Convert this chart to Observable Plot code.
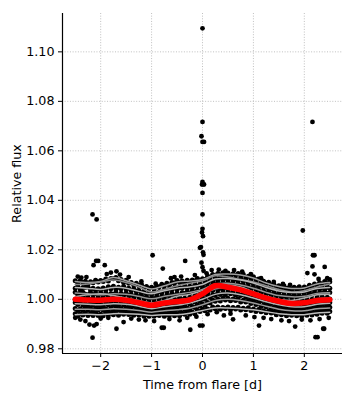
<!DOCTYPE html>
<html><head><meta charset="utf-8">
<script src="https://cdn.jsdelivr.net/npm/d3@7"></script>
<script src="https://cdn.jsdelivr.net/npm/@observablehq/plot@0.6"></script>
<style>body{margin:0;background:#fff} svg{font-family:"DejaVu Sans",sans-serif}</style>
</head><body><div id="chart"></div>
<script>
// time grid of the stacked light curves [d]
const times = [-2.5,-2.45,-2.4,-2.35,-2.3,-2.25,-2.2,-2.15,-2.1,-2.05,-2,-1.95,-1.9,-1.85,-1.8,-1.75,-1.7,-1.65,-1.6,-1.55,-1.5,-1.45,-1.4,-1.35,-1.3,-1.25,-1.2,-1.15,-1.1,-1.05,-1,-0.95,-0.9,-0.85,-0.8,-0.75,-0.7,-0.65,-0.6,-0.55,-0.5,-0.45,-0.4,-0.35,-0.3,-0.25,-0.2,-0.15,-0.1,-0.05,0,0.05,0.1,0.15,0.2,0.25,0.3,0.35,0.4,0.45,0.5,0.55,0.6,0.65,0.7,0.75,0.8,0.85,0.9,0.95,1,1.05,1.1,1.15,1.2,1.25,1.3,1.35,1.4,1.45,1.5,1.55,1.6,1.65,1.7,1.75,1.8,1.85,1.9,1.95,2,2.05,2.1,2.15,2.2,2.25,2.3,2.35,2.4,2.45,2.5];
// flux deviations in units of 1e-4 (relative flux = 1 + v/1e4)
const bandA = [75,66,76,68,73, 62,71,67,77,70, 76,72,82,74,84, 83,88,75,80,68, 77,65,68,58,65, 55,61,48,52,44, 49,43,53,51,61, 54,65,57,68,66, 76,68,74,65,77, 69,78,74,84,75, 83,80,93,90,100, 95,104,98,107,96, 106,95,103,97,104, 95,101,87,93,84, 91,79,82,68,73, 62,69,58,61,50, 55,45,55,44,48, 40,49,43,51,41, 50,46,57,50,62, 57,67,61,72,63, 71];
const bandB = [45,52,40,48,49, 50,39,45,37,43, 38,46,38,51,43, 53,41,49,43,52, 41,45,35,43,33, 37,27,32,20,26, 19,31,23,32,27, 39,32,42,39,49, 39,49,45,53,45, 53,48,60,53,60, 55,68,67,78,72, 86,79,89,78,86, 80,88,79,82,73, 84,74,77,66,71, 63,67,53,58,50, 52,40,44,37,43, 29,36,30,36,25, 31,22,34,27,34, 26,35,31,44,38, 49,41,49,40,49, 45];
const bandC = [29,19,26,29,20, 18,26,18,23,13, 24,16,24,15,23, 20,27,15,24,16, 25,15,19,9,18, 9,16,4,8,-1, 6,2,11,2,13, 7,17,13,23,14, 23,16,27,23,31, 24,35,30,37,32, 45,42,53,48,61, 59,69,58,66,60, 69,61,67,55,61, 56,60,49,53,43, 51,39,40,30,35, 24,28,17,25,16, 20,10,15,9,17, 7,16,6,13,8, 16,9,20,17,27, 18,27,23,30,23, 28];
const bandD = [-1,7,1,9,-2, 7,-2,4,-5,2, -3,6,-4,3,-2, 6,0,6,-5,3, -6,1,-5,0,-10, -5,-14,-6,-17,-14, -22,-11,-16,-9,-16, -3,-10,-2,-9,-1, -6,5,-2,4,-1, 8,3,15,12,23, 16,27,23,38,36, 47,39,46,38,48, 43,50,38,43,36, 42,33,38,24,31, 20,25,16,21,7, 11,-1,7,-2,3, -9,-1,-11,-3,-16, -6,-15,-9,-16,-6, -12,-3,-9,0,-6, 6,-2,9,1,6, 1];
const bandE = [-13,-21,-13,-23,-18, -25,-16,-23,-15,-25, -19,-27,-15,-22,-15, -22,-16,-24,-13,-23, -14,-26,-20,-27,-21, -31,-25,-38,-30,-38, -34,-41,-33,-36,-26, -36,-26,-30,-21,-29, -22,-27,-16,-22,-11, -19,-7,-11,-3,-8, 3,0,14,7,18, 15,25,19,25,18, 31,22,25,16,23, 15,20,9,12,2, 9,-1,4,-6,-4, -15,-9,-17,-11,-24, -18,-30,-22,-29,-23, -33,-25,-34,-28,-36, -25,-30,-22,-29,-19, -24,-13,-21,-16,-22, -13];
const bandF = [-37,-45,-38,-44,-34, -43,-36,-47,-36,-44, -37,-44,-38,-46,-35, -43,-32,-42,-37,-44, -36,-43,-37,-49,-41, -48,-41,-52,-47,-56, -46,-54,-46,-53,-45, -50,-40,-46,-41,-49, -39,-46,-34,-41,-35, -41,-29,-33,-23,-27, -18,-25,-13,-15,-3, -8,1,-7,4,-3, 4,-6,1,-5,2, -11,-4,-11,-6,-17, -10,-21,-16,-29,-23, -30,-24,-38,-32,-42, -36,-44,-37,-46,-42, -51,-44,-49,-40,-50, -43,-50,-39,-43,-35, -42,-32,-40,-34,-42, -32];
const bandG = [-58,-68,-58,-63,-55, -65,-57,-65,-55,-65, -60,-66,-54,-63,-55, -62,-53,-64,-55,-60, -52,-61,-57,-64,-56, -63,-56,-68,-61,-68, -60,-68,-61,-65,-57, -68,-60,-65,-57,-66, -59,-66,-56,-60,-51, -60,-51,-58,-44,-49, -40,-46,-39,-43,-31, -38,-31,-40,-33,-37, -31,-42,-33,-39,-32, -43,-36,-42,-34,-45, -39,-49,-41,-50,-46, -54,-46,-55,-52,-62, -53,-62,-56,-66,-59, -64,-57,-66,-59,-67, -58,-64,-53,-63,-54, -60,-50,-56,-47,-56, -49];

// scattered points (flare spikes and outliers)
const outTimes = [0,0,-0.02,0,0.03,0,-0.01,0.03,0,0,0,-0.01,0.01,-0.03,0.01,0.02,-0.02,0,0.02,-0.05,
  2.16,1.97,-2.16,-2.08,-0.98,-0.78,-2.09,-2.05,-2.14,-1.92,-1.69,-0.34,2.17,2.20,2.16,2.40,2.06,2.20,
  -2.16,-1.69,-1.55,-2.30,-2.22,-2.13,-2.08,-0.80,-0.76,-0.24,-0.05,0.0,0.60,1.11,1.02,1.82,2.37,2.39,2.22,2.26,1.25,1.88];
const outFlux = [1.1095,1.0717,1.0659,1.0636,1.0636,1.0474,1.0464,1.0464,1.0430,1.0343,1.0285,1.0270,1.0255,1.0211,1.0190,1.0180,1.0148,1.0130,1.0115,1.0208,
  1.0717,1.0278,1.0343,1.0323,1.0178,1.0124,1.0155,1.0155,1.0138,1.0138,1.0113,1.0155,1.0178,1.0178,1.0133,1.0131,1.0106,1.0101,
  0.9845,0.9881,0.9908,0.9912,0.9898,0.9894,0.9900,0.9885,0.9885,0.9877,0.9894,0.9894,0.9919,0.9894,0.9928,0.9890,0.9881,0.9881,0.9847,0.9847,1.0063,1.0039];
// scattered points along the upper and lower edges of the band
const edgeTimes = [-2.45,-2.38,-2.28,-1.88,-1.80,-1.62,-1.45,-1.20,-0.92,-0.62,-0.55,-0.42,-0.15,0.08,0.18,0.32,0.45,0.62,0.78,0.95,1.15,1.40,1.58,1.72,2.28,2.45,2.50,
  -2.50,-2.40,-2.00,-1.85,-1.40,-1.25,-1.12,-0.95,-0.65,-0.45,-0.30,-0.12,0.10,0.28,0.42,0.55,0.85,1.20,1.35,1.55,1.70,1.95,2.12,2.30,2.48];
const edgeFlux = [1.0092,1.0088,1.0090,1.0102,1.0108,1.0100,1.0090,1.0072,1.0063,1.0085,1.0090,1.0092,1.0098,1.0105,1.0118,1.0120,1.0115,1.0118,1.0112,1.0102,1.0085,1.0070,1.0062,1.0058,1.0082,1.0085,1.0080,
  0.9925,0.9918,0.9922,0.9925,0.9922,0.9918,0.9915,0.9912,0.9920,0.9915,0.9925,0.9930,0.9940,0.9948,0.9935,0.9942,0.9935,0.9925,0.9920,0.9915,0.9912,0.9918,0.9915,0.9920,0.9925];

// model curves (gray samples) at knot times, units of 1e-4
const knotTimes = [-2.5,-2.25,-2,-1.75,-1.5,-1.25,-1,-0.75,-0.5,-0.25,0,0.25,0.5,0.75,1,1.25,1.5,1.75,2,2.25,2.5];
const modelA = [72,68,72,88,75,58,42,55,70,74,80,100,102,98,86,66,52,44,46,62,68];
const modelB = [48,44,40,48,45,32,22,35,45,50,60,82,84,78,66,48,34,28,30,44,48];
const modelC = [25,22,18,22,20,12,2,12,20,28,40,62,65,58,45,28,15,10,12,24,26];
const modelD = [4,2,0,2,0,-8,-18,-8,-2,5,20,42,46,38,25,8,-5,-12,-10,2,5];
const modelE = [-18,-20,-22,-18,-20,-28,-38,-30,-24,-15,0,20,25,18,5,-10,-22,-30,-30,-20,-16];
const modelF = [-40,-40,-42,-38,-40,-45,-52,-46,-42,-36,-22,-5,0,-5,-15,-28,-40,-46,-46,-38,-35];
const modelG = [-62,-60,-62,-58,-58,-60,-65,-62,-62,-56,-45,-35,-35,-38,-42,-50,-58,-62,-62,-55,-52];
const modelH = [10,18,22,15,5,-5,-15,-5,12,20,35,48,58,50,30,12,0,-5,5,18,20];
const modelI = [60,62,70,78,68,50,30,40,55,65,75,95,90,80,70,55,40,30,35,50,62];
// mean model (red)
const meanModel = [0,-3,-4,0,-4,-14,-24,-15,-9,-2,22,55,49,38,22,5,-8,-17,-14,-5,-2];

const xTicks = [-2,-1,0,1,2];
const yTicks = [0.98,1.00,1.02,1.04,1.06,1.08,1.10];
const xLabel = "Time from flare [d]";
const yLabel = "Relative flux";

const toFlux = v => 1 + v / 1e4;
const bands = [bandA,bandB,bandC,bandD,bandE,bandF,bandG];
const points = bands.flatMap(b => b.map((v, i) => ({t: times[i], f: toFlux(v)})));
const outliers = outTimes.map((t, i) => ({t, f: outFlux[i]}));
const edges = edgeTimes.map((t, i) => ({t, f: edgeFlux[i]}));
const models = [modelA,modelI,modelB,modelC,modelH,modelD,modelE,modelF,modelG];
const grays = ["#a0a0a0","#8a8a8a","#b8b8b8","#959595","#ababab","#858585","#b3b3b3","#9c9c9c","#bdbdbd"];
const mean = meanModel.map((v, i) => ({t: knotTimes[i], f: toFlux(v)}));

const grid = {stroke: "#b0b0b0", strokeOpacity: 1, strokeWidth: 0.8, strokeDasharray: "1,1.65"};
const FS = 12.7;

const chart = Plot.plot({
  width: 355, height: 400,
  marginLeft: 62, marginRight: 13, marginTop: 13, marginBottom: 47,
  x: {domain: [-2.75, 2.75]},
  y: {domain: [0.9781, 1.1155]},
  style: {fontFamily: "DejaVu Sans", fontSize: FS + "px", color: "#000", background: "#fff"},
  marks: [
    Plot.gridX(xTicks, grid),
    Plot.gridY(yTicks, grid),
    Plot.dot(points, {x: "t", y: "f", r: 2.5, fill: "#000", stroke: null}),
    Plot.dot(edges, {x: "t", y: "f", r: 2.4, fill: "#000", stroke: null}),
    Plot.dot(outliers, {x: "t", y: "f", r: 2.4, fill: "#000", stroke: null}),
    ...models.map((m, k) => Plot.line(m.map((v, i) => ({t: knotTimes[i], f: toFlux(v)})),
      {x: "t", y: "f", stroke: grays[k], strokeWidth: 1.5, curve: "catmull-rom"})),
    Plot.line(mean, {x: "t", y: "f", stroke: "#ff0000", strokeWidth: 5.5, curve: "catmull-rom"}),
    Plot.ruleX([-2.75], {stroke: "#000", strokeWidth: 1.2}),
    Plot.ruleY([0.9781], {stroke: "#000", strokeWidth: 1.2}),
    Plot.axisX(xTicks, {tickSize: 4, tickPadding: 3, fontSize: FS, tickFormat: d3.format("d"), label: null}),
    Plot.axisY(yTicks, {tickSize: 4, tickPadding: 4, fontSize: FS, tickFormat: d3.format(".2f"), label: null}),
    Plot.text([xLabel], {frameAnchor: "bottom", dy: 31, fontSize: FS, textAnchor: "middle", lineAnchor: "middle", fill: "#000"}),
    Plot.text([yLabel], {frameAnchor: "left", dx: -46, rotate: -90, fontSize: FS, textAnchor: "middle", lineAnchor: "middle", fill: "#000"})
  ]
});
document.getElementById("chart").appendChild(chart);
</script>
</body></html>
